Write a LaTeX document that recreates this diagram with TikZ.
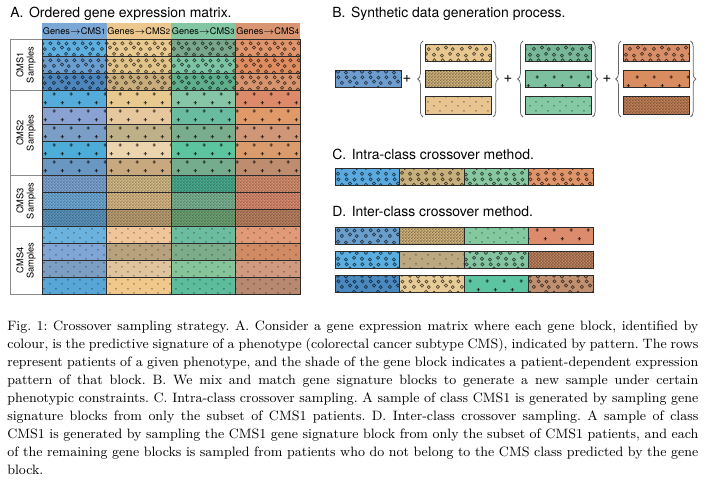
\documentclass[tikz,border=0pt]{standalone}
\usepackage{fontspec}
\setsansfont{TeX Gyre Heros}
\usetikzlibrary{patterns.meta,decorations.pathreplacing}
\definecolor{ink}{HTML}{2B2B2B}
\definecolor{rulegray}{HTML}{8A8A8A}
\definecolor{hdA}{HTML}{7BA7D6}
\definecolor{hdB}{HTML}{ECC88E}
\definecolor{hdC}{HTML}{82C6A3}
\definecolor{hdD}{HTML}{D99572}

% block patterns (page anchored tiles)
\tikzdeclarepattern{name=rings,type=uncolored,
  bounding box={(0pt,0pt) and (16pt,11.33pt)},tile size={(16pt,11.33pt)},
  code={\draw[line width=0.45pt] (2pt,2.2pt) circle (1.05pt) (7.3pt,1.6pt) circle (1.05pt)
        (12.7pt,2.8pt) circle (1.05pt) (4.6pt,6.1pt) circle (1.05pt) (10pt,7pt) circle (1.05pt)
        (14.5pt,5.9pt) circle (1.05pt) (2.3pt,9.8pt) circle (1.05pt) (7.8pt,9.8pt) circle (1.05pt)
        (13pt,9.6pt) circle (1.05pt);}}
\tikzdeclarepattern{name=pluses,type=uncolored,
  bounding box={(0pt,0pt) and (11.1pt,11.33pt)},tile size={(11.1pt,11.33pt)},
  code={\draw[line width=0.6pt] (1.7pt,10pt) -- (3.9pt,10pt) (2.8pt,8.9pt) -- (2.8pt,11.1pt)
        (7.25pt,4.2pt) -- (9.45pt,4.2pt) (8.35pt,3.1pt) -- (8.35pt,5.3pt);}}
\tikzdeclarepattern{name=checker,type=uncolored,
  bounding box={(0pt,0pt) and (2.2pt,2.2pt)},tile size={(2.2pt,2.2pt)},
  code={\fill (0pt,0pt) rectangle (1.1pt,1.1pt) (1.1pt,1.1pt) rectangle (2.2pt,2.2pt);}}
\tikzdeclarepattern{name=specks,type=uncolored,
  bounding box={(0pt,0pt) and (8pt,5.67pt)},tile size={(8pt,5.67pt)},
  code={\fill (2pt,1.4pt) circle (0.5pt) (6pt,4.2pt) circle (0.5pt);}}

% x y width height colour pattern shade
\newcommand\gblock[7]{%
  \definecolor{blkc}{HTML}{#5}%
  \draw[blk,preaction={fill=blkc},pattern=#6,pattern color=blkc!#7!black]
    (#1,#2) rectangle ++(#3,#4);}

\begin{document}
\begin{tikzpicture}[x=0.6667pt,y=-0.6667pt,
  title/.style={font=\sffamily\fontsize{9.3}{11}\selectfont,anchor=base west,inner sep=0pt},
  hdr/.style={font=\sffamily\fontsize{6.1}{7}\selectfont,inner sep=0pt},
  lbl/.style={font=\sffamily\fontsize{6.2}{6.8}\selectfont,rotate=90,align=center,inner sep=0pt},
  blk/.style={draw=ink,line width=0.6pt},
  brc/.style={draw=black!60,line width=0.5pt,decorate,decoration={brace,amplitude=3.5pt}},
  plus/.style={font=\sffamily\fontsize{10}{10}\selectfont,inner sep=0pt}]
  \useasboundingbox[fill=white] (0,0) rectangle (711,482);

  % A: matrix
  \node[title] (tA) at (10,17.5) {A.\hspace{0.4em}Ordered gene expression matrix.};
  \foreach \c/\h [count=\k from 0] in {hdA/1,hdB/2,hdC/3,hdD/4}{
    \fill[\c] (42+64.5*\k,23) rectangle ++(64.5,16.5);
    \node[hdr] (h\h) at (74.25+64.5*\k,31.5) {Genes$\rightarrow$CMS{\fontsize{5.1}{5}\selectfont\h}};
  }
  \foreach \pat/\shd/\ca/\cb/\cc/\cd [count=\r from 0] in {
      rings/35/5EAEE0/E8C990/78A68A/E0946C, rings/35/6A9ED0/E2C48A/7CC4A4/DE8C60,
      rings/35/4D86BD/C9AD7D/5FAE8C/D8946E,
      pluses/25/55ACDA/E8CA90/86C6A6/DC8A6A, pluses/25/8AA2D2/E6C79E/6ABCA0/E09A6A,
      pluses/25/7A9EC6/BEB088/7AAC8E/D09678, pluses/25/4EACD8/ECD4AE/5CC49E/DA9C6C,
      pluses/25/6A96C2/C8A87E/76AC8E/BE8C6E,
      checker/70/7EA6D6/D6BC88/4AAE90/D8906E, checker/70/70ACDA/DABA86/7CB694/DC8C70,
      checker/70/5C96C0/BCA074/6EA474/BC8262,
      specks/40/6CB2DE/F0C59A/6CBCA0/E09A78, specks/40/80A6D6/B8A27E/7CAC8A/D08A64,
      specks/40/7C9EC2/E0C49E/86C49A/D09A80, specks/40/58A6D6/F0C88C/5CBC9C/B88870}{
    \foreach \cx [count=\k from 0] in {\ca,\cb,\cc,\cd}
      \gblock{42+64.5*\k}{39.5+17*\r}{64.5}{17}{\cx}{\pat}{\shd};
  }
  \foreach \yy in {90.5,175.5,226.5}{
    \draw[ink,line width=1.3pt] (42,\yy) -- (300,\yy);
    \draw[rulegray,line width=0.5pt] (10,\yy) -- (42,\yy);
  }
  \draw[rulegray,line width=0.5pt] (42,39.5) -- (10,39.5) -- (10,294.5) -- (42,294.5);
  \node[lbl] (s1) at (26,65) {CMS1\\Samples};
  \node[lbl] (s2) at (26,133) {CMS2\\Samples};
  \node[lbl] (s3) at (26,201) {CMS3\\Samples};
  \node[lbl] (s4) at (26,260.5) {CMS4\\Samples};

  % B: generation
  \node[title] (tB) at (332,17.5) {B.\hspace{0.4em}Synthetic data generation process.};
  \gblock{335}{70}{66}{17.5}{6E9ED0}{rings}{35}
  \gblock{425}{44}{66}{17.5}{E8C890}{rings}{35}
  \gblock{425}{70}{66}{17.5}{D4B67E}{checker}{60}
  \gblock{425}{96.5}{66}{17.5}{E8C490}{specks}{40}
  \gblock{525}{44}{66}{17.5}{78B898}{rings}{35}
  \gblock{525}{70}{66}{17.5}{7CC0A0}{pluses}{25}
  \gblock{525}{96.5}{66}{17.5}{84C8A4}{specks}{40}
  \gblock{623}{44}{66}{17.5}{D88E68}{rings}{35}
  \gblock{623}{70}{66}{17.5}{D88C60}{pluses}{25}
  \gblock{623}{96.5}{66}{17.5}{C48258}{checker}{65}
  \node[plus] (p1) at (407,79) {+};
  \node[plus] (p2) at (508,79) {+};
  \node[plus] (p3) at (607,79) {+};
  \foreach \xl/\xr in {423/493,523/592.5,621/690.5}{
    \draw[brc] (\xl,117) -- (\xl,41);
    \draw[brc] (\xr,41) -- (\xr,117);
  }

  % C: intra-class
  \node[title] (tC) at (332,159) {C.\hspace{0.4em}Intra-class crossover method.};
  \foreach \cx [count=\k from 0] in {5AAAE0,C8B07C,88C8A0,E0946A}
    \gblock{335+64.5*\k}{168}{64.5}{17}{\cx}{rings}{35};

  % D: inter-class
  \node[title] (tD) at (332,216.5) {D.\hspace{0.4em}Inter-class crossover method.};
  \foreach \yy/\ca/\pa/\sa/\cb/\pb/\sb/\cc/\pc/\sc/\cd/\pd/\sd in {
      227/6A9ECC/rings/35/D4B67E/checker/60/84C8A0/specks/40/DC8C6C/pluses/25,
      251/5AAEE0/rings/35/BCA880/specks/40/84C4A0/rings/35/C48660/checker/65,
      275/4A88C0/rings/35/E8CC98/rings/35/5CC4A0/pluses/25/C09070/rings/35}{
    \gblock{335}{\yy}{64.5}{17}{\ca}{\pa}{\sa}
    \gblock{399.5}{\yy}{64.5}{17}{\cb}{\pb}{\sb}
    \gblock{464}{\yy}{64.5}{17}{\cc}{\pc}{\sc}
    \gblock{528.5}{\yy}{64.5}{17}{\cd}{\pd}{\sd}
  }

  % caption
  \node[anchor=base west,inner sep=0pt,text width=460.7pt,align=justify,
        font=\fontsize{9.05}{12}\selectfont\frenchspacing] (cap) at (7,330.5)
   {Fig.~1: Crossover sampling strategy. A. Consider a gene expression matrix where each gene block, identified by\linebreak
    colour, is the predictive signature of a phenotype (colorectal cancer subtype CMS), indicated by pattern. The rows\linebreak
    represent patients of a given phenotype, and the shade of the gene block indicates a patient-dependent expression\linebreak
    pattern of that block. B. We mix and match gene signature blocks to generate a new sample under certain\linebreak
    phenotypic constraints. C. Intra-class crossover sampling. A sample of class CMS1 is generated by sampling gene\linebreak
    signature blocks from only the subset of CMS1 patients. D. Inter-class crossover sampling. A sample of class\linebreak
    CMS1 is generated by sampling the CMS1 gene signature block from only the subset of CMS1 patients, and each\linebreak
    of the remaining gene blocks is sampled from patients who do not belong to the CMS class predicted by the gene\linebreak
    block.};
\end{tikzpicture}
\end{document}
